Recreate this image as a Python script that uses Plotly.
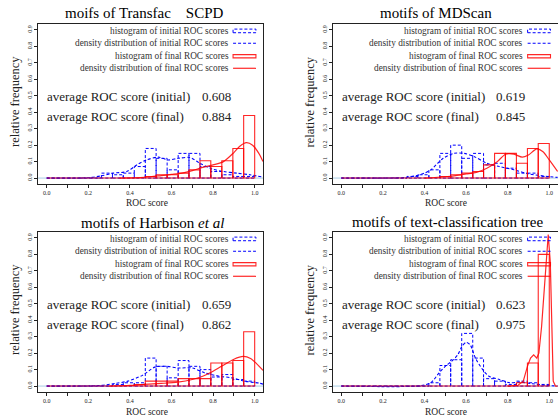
import plotly.graph_objects as go

FONT = "Liberation Serif, Times New Roman, serif"

# ---------------- data ----------------
bin_edges = [0.000, 0.053, 0.105, 0.158, 0.211, 0.263, 0.316, 0.368, 0.421, 0.474,
             0.526, 0.579, 0.632, 0.684, 0.737, 0.789, 0.842, 0.895, 0.947, 1.000]

titles = ["moifs of Transfac\u00a0\u00a0\u00a0 SCPD", "motifs of MDScan",
          "motifs of Harbison <i>et al</i>", "motifs of text-classification tree"]
avg_initial = ["0.608", "0.619", "0.659", "0.623"]
avg_final = ["0.884", "0.845", "0.862", "0.975"]

init_hist_1 = [0, 0, 0, 0, 0, 0.03, 0.02, 0.03, 0.07, 0.18, 0.12, 0.05, 0.15, 0.15, 0.07, 0.04, 0.02, 0.01, 0.01]
final_hist_1 = [0, 0, 0, 0, 0, 0, 0, 0, 0, 0.01, 0.02, 0.02, 0.03, 0.05, 0.105, 0.07, 0.105, 0.18, 0.38]
init_hist_2 = [0, 0, 0, 0, 0, 0, 0.01, 0.02, 0.05, 0.15, 0.20, 0.12, 0.15, 0.08, 0.09, 0.06, 0.03, 0.03, 0.01]
final_hist_2 = [0, 0, 0, 0, 0, 0, 0, 0, 0, 0.01, 0.02, 0.03, 0.04, 0.08, 0.15, 0.15, 0.09, 0.18, 0.21]
init_hist_3 = [0, 0, 0, 0, 0, 0, 0.01, 0.02, 0.02, 0.17, 0.12, 0.05, 0.155, 0.12, 0.10, 0.055, 0.07, 0.04, 0.03]
final_hist_3 = [0, 0, 0, 0, 0, 0, 0, 0, 0.01, 0.03, 0.03, 0.03, 0.045, 0.045, 0.045, 0.14, 0.14, 0.155, 0.33]
init_hist_4 = [0, 0, 0, 0, 0, 0, 0, 0, 0.02, 0.125, 0.16, 0.32, 0.17, 0.045, 0.03, 0.01, 0.03, 0.02, 0.01]
final_hist_4 = [0, 0, 0, 0, 0, 0, 0, 0, 0, 0, 0, 0, 0, 0, 0, 0, 0.02, 0.14, 0.80]

init_dens_x_1 = [0, 0.2, 0.264, 0.32, 0.385, 0.433, 0.48, 0.537, 0.585, 0.633, 0.689, 0.737, 0.793, 0.849, 0.913, 0.977, 1.04]
init_dens_y_1 = [0, 0.002, 0.014, 0.03, 0.04, 0.08, 0.11, 0.127, 0.11, 0.12, 0.125, 0.09, 0.056, 0.04, 0.03, 0.02, 0.006]
final_dens_x_1 = [0.35, 0.45, 0.5, 0.55, 0.6, 0.65, 0.7, 0.75, 0.8, 0.85, 0.9, 0.93, 0.96, 0.99, 1.02, 1.04]
final_dens_y_1 = [0, 0.003, 0.008, 0.015, 0.022, 0.03, 0.045, 0.065, 0.08, 0.1, 0.155, 0.195, 0.215, 0.2, 0.15, 0.1]

init_dens_x_2 = [0, 0.3, 0.35, 0.4, 0.43, 0.49, 0.54, 0.59, 0.64, 0.7, 0.76, 0.83, 0.9, 0.99, 1.04]
init_dens_y_2 = [0, 0.003, 0.012, 0.03, 0.05, 0.12, 0.15, 0.15, 0.13, 0.09, 0.07, 0.05, 0.026, 0.01, 0.004]
final_dens_x_2 = [0.4, 0.5, 0.55, 0.6, 0.65, 0.7, 0.75, 0.79, 0.83, 0.87, 0.9, 0.94, 0.97, 1.0, 1.04]
final_dens_y_2 = [0, 0.008, 0.015, 0.025, 0.035, 0.06, 0.1, 0.145, 0.145, 0.127, 0.14, 0.177, 0.16, 0.11, 0.04]

init_dens_x_3 = [0, 0.25, 0.33, 0.39, 0.46, 0.52, 0.58, 0.63, 0.7, 0.76, 0.83, 0.89, 0.95, 1.02, 1.04]
init_dens_y_3 = [0, 0.003, 0.016, 0.03, 0.065, 0.115, 0.12, 0.11, 0.11, 0.08, 0.06, 0.05, 0.03, 0.018, 0.012]
final_dens_x_3 = [0.3, 0.4, 0.47, 0.55, 0.63, 0.7, 0.75, 0.8, 0.84, 0.9, 0.945, 0.98, 1.01, 1.04]
final_dens_y_3 = [0, 0.004, 0.01, 0.016, 0.024, 0.04, 0.06, 0.09, 0.12, 0.163, 0.18, 0.168, 0.135, 0.095]

init_dens_x_4 = [0, 0.38, 0.43, 0.47, 0.5, 0.53, 0.56, 0.58, 0.6, 0.62, 0.645, 0.68, 0.71, 0.76, 0.81, 0.86, 0.92, 0.99, 1.04]
init_dens_y_4 = [0, 0.002, 0.02, 0.08, 0.12, 0.15, 0.19, 0.24, 0.265, 0.25, 0.17, 0.1, 0.06, 0.04, 0.02, 0.024, 0.014, 0.004, 0.0]
final_dens_x_4 = [0.8, 0.85, 0.875, 0.895, 0.91, 0.925, 0.94, 0.95, 0.963, 0.979, 0.995, 1.005, 1.011, 1.019, 1.03, 1.04]
final_dens_y_4 = [0, 0.005, 0.03, 0.12, 0.17, 0.19, 0.17, 0.2, 0.36, 0.66, 0.92, 0.75, 0.36, 0.03, 0, 0]

x_tick_vals = [0.0, 0.1, 0.2, 0.3, 0.4, 0.5, 0.6, 0.7, 0.8, 0.9, 1.0]
x_tick_text = ["0.0", "", "0.2", "", "0.4", "", "0.6", "", "0.8", "", "1.0"]
y_tick_vals = [0.0, 0.1, 0.2, 0.3, 0.4, 0.5, 0.6, 0.7, 0.8, 0.9]
y_tick_text = ["0.0", "0.1", "0.2", "0.3", "0.4", "0.5", "0.6", "0.7", "0.8", "0.9"]

legend_labels = ["histogram of initial ROC scores", "density distribution of initial ROC scores",
                 "histogram of final ROC scores", "density distribution of final ROC scores"]

init_hists = [init_hist_1, init_hist_2, init_hist_3, init_hist_4]
final_hists = [final_hist_1, final_hist_2, final_hist_3, final_hist_4]
init_dens = [(init_dens_x_1, init_dens_y_1), (init_dens_x_2, init_dens_y_2),
             (init_dens_x_3, init_dens_y_3), (init_dens_x_4, init_dens_y_4)]
final_dens = [(final_dens_x_1, final_dens_y_1), (final_dens_x_2, final_dens_y_2),
              (final_dens_x_3, final_dens_y_3), (final_dens_x_4, final_dens_y_4)]

# ---------------- layout geometry (pixels) ----------------
W, H = 558, 416
boxes = [(38, 263, 24, 184), (333, 558, 24, 184), (38, 263, 232, 392), (333, 558, 232, 392)]
xranges = [[-0.042, 1.04], [-0.04, 1.042], [-0.042, 1.04], [-0.04, 1.042]]
yrange = [-0.036, 0.936]
title_pos = [(144.7, 13), (435.5, 13), (152, 223), (447.7, 222)]
xlab_pos = [(147, 203), (446, 203), (147, 412), (446, 412)]
ylab_pos = [(15, 102), (309.5, 102), (15, 310), (309.5, 310)]

BLUE = "#0000ff"
RED = "rgba(255,0,0,0.85)"


def hist_path(edges, heights):
    xs, ys = [], []
    for i, h in enumerate(heights):
        x0, x1 = edges[i], edges[i + 1]
        xs += [x0, x0, x1, x1, x0, None]
        ys += [0, h, h, 0, 0, None]
    return xs, ys


fig = go.Figure()
annotations = []
shapes = []

for p in range(4):
    xa = "x" if p == 0 else f"x{p+1}"
    ya = "y" if p == 0 else f"y{p+1}"
    hx, hy = hist_path(bin_edges, init_hists[p])
    fig.add_trace(go.Scatter(x=hx, y=hy, mode="lines", xaxis=xa, yaxis=ya,
                             line=dict(color=BLUE, width=1, dash="3px,2px"), showlegend=False))
    fig.add_trace(go.Scatter(x=init_dens[p][0], y=init_dens[p][1], mode="lines", xaxis=xa, yaxis=ya,
                             line=dict(color=BLUE, width=1.1, dash="3px,2px", shape="spline", smoothing=0.8),
                             showlegend=False))
    hx, hy = hist_path(bin_edges, final_hists[p])
    fig.add_trace(go.Scatter(x=hx, y=hy, mode="lines", xaxis=xa, yaxis=ya,
                             line=dict(color=RED, width=1.1), showlegend=False))
    fig.add_trace(go.Scatter(x=final_dens[p][0], y=final_dens[p][1], mode="lines", xaxis=xa, yaxis=ya,
                             line=dict(color=RED, width=1.2, shape="spline" if p < 3 else "linear",
                                       smoothing=0.8),
                             showlegend=False))

    x0, x1, y0, y1 = boxes[p]
    fig.layout[f"xaxis{'' if p == 0 else p+1}"] = dict(
        domain=[x0 / W, x1 / W], range=xranges[p], anchor=ya,
        tickvals=x_tick_vals, ticktext=x_tick_text, ticks="outside", ticklen=3,
        tickcolor="#222", tickwidth=1, showline=True, mirror=True, linecolor="#222", linewidth=1,
        showgrid=False, zeroline=False, tickfont=dict(family=FONT, size=6, color="#222"), fixedrange=True)
    fig.layout[f"yaxis{'' if p == 0 else p+1}"] = dict(
        domain=[1 - y1 / H, 1 - y0 / H], range=yrange, anchor=xa,
        tickvals=y_tick_vals, ticktext=y_tick_text, ticks="outside", ticklen=3, tickangle=-90,
        tickcolor="#222", tickwidth=1, showline=True, mirror=True, linecolor="#222", linewidth=1,
        showgrid=False, zeroline=False, tickfont=dict(family=FONT, size=6, color="#222"), fixedrange=True)

    shapes.append(dict(type="line", xref=f"{xa} domain", yref=ya, x0=0, x1=1, y0=0, y1=0,
                       line=dict(color="#a9cce3", width=1), layer="below"))

    tx, ty = title_pos[p]
    annotations.append(dict(text=titles[p], xref="paper", yref="paper", x=tx / W, y=1 - ty / H,
                            xanchor="center", yanchor="middle", showarrow=False,
                            font=dict(family=FONT, size=15, color="black")))
    lx, ly = xlab_pos[p]
    annotations.append(dict(text="ROC score", xref="paper", yref="paper", x=lx / W, y=1 - ly / H,
                            xanchor="center", yanchor="middle", showarrow=False,
                            font=dict(family=FONT, size=9.5, color="#222")))
    rx, ry = ylab_pos[p]
    annotations.append(dict(text="relative frequency", xref="paper", yref="paper", x=rx / W, y=1 - ry / H,
                            xanchor="center", yanchor="middle", showarrow=False, textangle=-90,
                            font=dict(family=FONT, size=12.5, color="#222")))

    rows = [0.894, 0.819, 0.740, 0.667]
    for k, lab in enumerate(legend_labels):
        annotations.append(dict(text=lab, xref=xa, yref=ya, x=0.885, y=rows[k],
                                xanchor="right", yanchor="middle", showarrow=False,
                                font=dict(family=FONT, size=9.3, color="#333")))
    shapes.append(dict(type="rect", xref=xa, yref=ya, x0=0.896, x1=1.006, y0=rows[0] - 0.011, y1=rows[0] + 0.011,
                       line=dict(color=BLUE, width=1, dash="3px,2px")))
    shapes.append(dict(type="line", xref=xa, yref=ya, x0=0.896, x1=1.006, y0=rows[1], y1=rows[1],
                       line=dict(color=BLUE, width=1.1, dash="3px,2px")))
    shapes.append(dict(type="rect", xref=xa, yref=ya, x0=0.896, x1=1.006, y0=rows[2] - 0.01, y1=rows[2] + 0.01,
                       line=dict(color=RED, width=1.1)))
    shapes.append(dict(type="line", xref=xa, yref=ya, x0=0.896, x1=1.006, y0=rows[3], y1=rows[3],
                       line=dict(color=RED, width=1.2)))

    annotations.append(dict(text="average ROC score (initial)", xref=xa, yref=ya, x=-0.006, y=0.497,
                            xanchor="left", yanchor="middle", showarrow=False,
                            font=dict(family=FONT, size=13, color="#222")))
    annotations.append(dict(text=avg_initial[p], xref=xa, yref=ya, x=0.735, y=0.497,
                            xanchor="left", yanchor="middle", showarrow=False,
                            font=dict(family=FONT, size=13, color="#222")))
    annotations.append(dict(text="average ROC score (final)", xref=xa, yref=ya, x=-0.006, y=0.372,
                            xanchor="left", yanchor="middle", showarrow=False,
                            font=dict(family=FONT, size=13, color="#222")))
    annotations.append(dict(text=avg_final[p], xref=xa, yref=ya, x=0.735, y=0.372,
                            xanchor="left", yanchor="middle", showarrow=False,
                            font=dict(family=FONT, size=13, color="#222")))

fig.update_layout(width=W, height=H, margin=dict(l=0, r=0, t=0, b=0),
                  paper_bgcolor="white", plot_bgcolor="white",
                  annotations=annotations, shapes=shapes, showlegend=False)

fig.write_html("out.html", config={"displayModeBar": False},
               post_script="document.body.style.margin='0';document.body.style.overflow='hidden';")
